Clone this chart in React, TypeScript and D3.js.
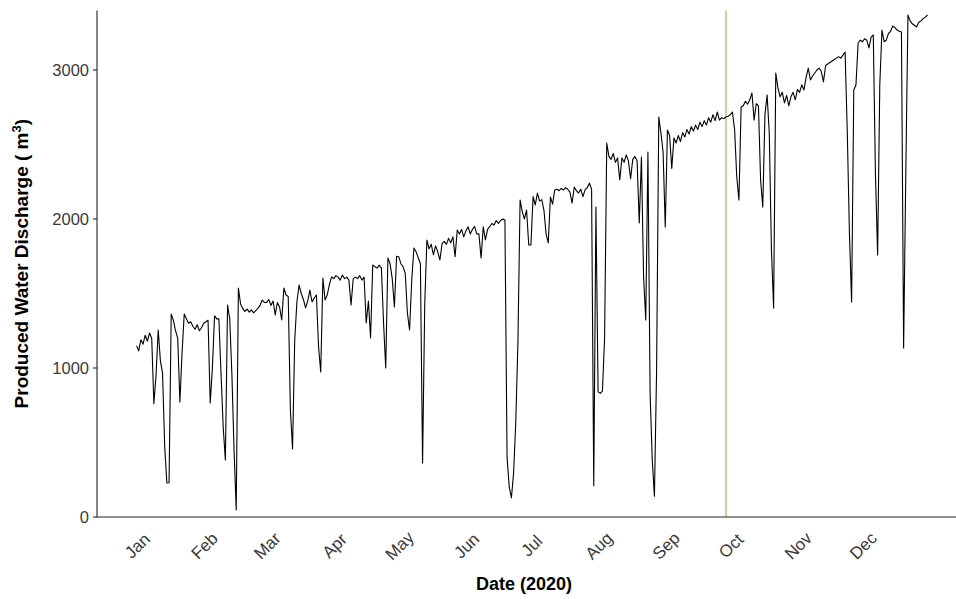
import React from "react";
import * as d3 from "d3";

// Daily produced water discharge (m^3), 2020, one array per month
const jan = [1150,1115,1190,1160,1220,1180,1235,1200,760,953,1255,1050,966,470,228,230,1362,1320,1250,1200,772,1100,1362,1330,1300,1310,1280,1260,1290,1250,1270];
const feb = [1300,1310,1320,765,1000,1350,1330,1330,960,600,383,1423,1330,960,450,47,1537,1430,1400,1380,1395,1375,1390,1370,1385,1400,1420,1456,1440];
const mar = [1440,1460,1420,1450,1356,1440,1410,1322,1537,1490,1480,718,456,1188,1443,1557,1500,1460,1403,1450,1523,1443,1470,1490,1141,973,1604,1457,1490,1560,1611];
const apr = [1600,1620,1610,1590,1624,1600,1610,1590,1423,1600,1610,1600,1620,1590,1610,1302,1450,1201,1691,1680,1670,1690,1670,1300,1000,1738,1700,1600,1409,1750];
const may = [1747,1700,1680,1636,1369,1255,1590,1805,1780,1740,1700,362,1430,1859,1800,1830,1760,1820,1780,1725,1834,1850,1830,1870,1840,1880,1747,1926,1900,1930,1880];
const jun = [1920,1948,1900,1930,1950,1900,1900,1738,1948,1859,1930,1950,1970,1960,1990,1970,1990,2000,1993,400,200,128,295,631,1168,2128,2050,2000,2060,1826];
const jul = [1826,2150,2094,2174,2120,2130,2060,1900,1839,2148,2100,2195,2200,2190,2205,2195,2210,2200,2180,2107,2215,2190,2174,2200,2150,2195,2210,2241,2200,210,2080];
const aug = [840,830,845,1200,2510,2420,2400,2440,2380,2410,2262,2410,2380,2430,2390,2270,2400,2420,2390,1973,2416,1611,1322,2450,832,383,140,986,2685,2577,2450];
const sep = [1946,2597,2560,2340,2544,2510,2560,2520,2580,2550,2600,2570,2620,2590,2630,2600,2650,2620,2660,2630,2680,2650,2700,2660,2718,2664,2680,2675,2685,2690];
const oct = [2700,2718,2600,2282,2128,2752,2760,2790,2770,2800,2846,2664,2775,2760,2262,2080,2700,2832,2577,1792,1403,2980,2880,2820,2850,2780,2830,2760,2820,2850,2800];
const nov = [2870,2850,2900,2866,2950,3013,2933,2960,2980,3000,3013,2990,2920,3030,3040,3050,3060,3070,3080,3090,3080,3100,3121,2585,1900,1443,2866,2899,3181,3200];
const dec = [3190,3210,3200,3148,3220,3235,2300,1758,2899,3268,3190,3200,3245,3260,3295,3285,3268,3260,3255,1134,2300,3369,3330,3310,3300,3289,3320,3330,3345,3355,3369];

const monthly = [jan, feb, mar, apr, may, jun, jul, aug, sep, oct, nov, dec];
const monthLabels = ["Jan","Feb","Mar","Apr","May","Jun","Jul","Aug","Sep","Oct","Nov","Dec"];
const yTicks = [0, 1000, 2000, 3000];
const markerDate = new Date(2020, 8, 29);

const W = 956, H = 599;
const FONT = "'Liberation Sans', Arial, sans-serif";

export default function App() {
  const data = monthly.flatMap((arr, m) =>
    arr.map((v, i) => ({ date: new Date(2020, m, i + 1), value: v }))
  );
  const start = new Date(2020, 0, 1).getTime();
  const end = new Date(2020, 11, 31).getTime();
  const pad = (end - start) * 0.05;
  const x = d3.scaleTime().domain([new Date(start - pad), new Date(end + pad)]).range([97, 967]);
  const y = d3.scaleLinear().domain([0, 3400]).range([517, 10.4]);
  const line = d3.line<{ date: Date; value: number }>()
    .x(d => x(d.date))
    .y(d => y(d.value));
  const monthStarts = monthLabels.map((_, i) => new Date(2020, i, 1));
  const mx = x(markerDate);

  return (
    <svg width={W} height={H} style={{ position: "absolute", left: 0, top: 0, background: "#fff" }}
      fontFamily={FONT}>
      <rect x={0} y={0} width={W} height={H} fill="#fff" />
      <line x1={mx} x2={mx} y1={y(3400)} y2={y(0)} stroke="#90c458" strokeWidth={1.2} />
      <path d={line(data) || ""} fill="none" stroke="#000" strokeWidth={1.1} strokeLinejoin="round" />
      {/* axes */}
      <line x1={97} x2={97} y1={y(3400)} y2={y(0) + 0.5} stroke="#222" strokeWidth={1.1} />
      <line x1={97} x2={967} y1={y(0)} y2={y(0)} stroke="#222" strokeWidth={1.1} />
      {yTicks.map(t => (
        <g key={t}>
          <line x1={93} x2={97} y1={y(t)} y2={y(t)} stroke="#222" strokeWidth={1.1} />
          <text x={89} y={y(t)} textAnchor="end" dominantBaseline="central" fontSize={16.5} fill="#3a3a3a">{t}</text>
        </g>
      ))}
      {monthStarts.map((d, i) => (
        <text key={i} transform={`translate(${x(d) + 1},546) rotate(-45)`} textAnchor="middle"
          dominantBaseline="central" fontSize={17} fill="#3a3a3a">{monthLabels[i]}</text>
      ))}
      <text x={524} y={590} textAnchor="middle" fontSize={18} fontWeight="bold" fill="#000">Date (2020)</text>
      <text transform={`translate(28,${(y(3400) + y(0)) / 2}) rotate(-90)`} textAnchor="middle"
        fontSize={19} fontWeight="bold" fill="#000">
        Produced Water Discharge ( m<tspan baselineShift="super" fontSize={13}>3</tspan>)
      </text>
    </svg>
  );
}
